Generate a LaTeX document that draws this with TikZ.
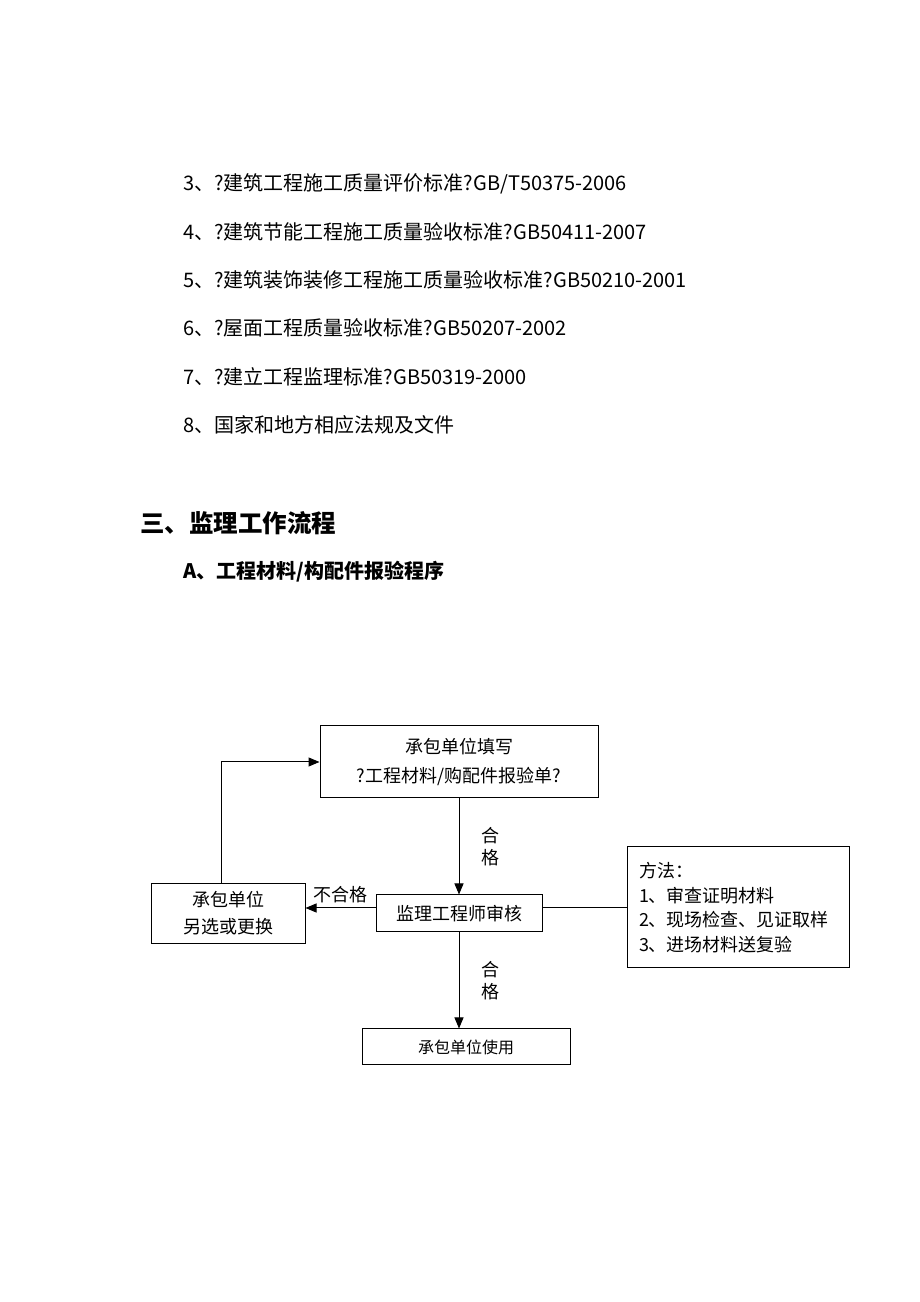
\documentclass[tikz,border=0pt]{standalone}
\usepackage{fontspec}
\setmainfont{Noto Sans CJK SC}
\usepackage{tikz}
\usetikzlibrary{arrows.meta, positioning, calc}

\begin{document}
\begin{tikzpicture}[
    x=1pt, y=1pt,
    node distance=96pt and 70pt,
    item/.style={anchor=west, inner sep=0pt, font=\fontsize{20}{24}\selectfont},
    heading/.style={anchor=west, inner sep=0pt, font=\fontsize{24.5}{28}\selectfont\bfseries},
    subheading/.style={anchor=west, inner sep=0pt, font=\fontsize{20}{24}\selectfont\bfseries},
    block/.style={rectangle, draw, line width=1pt, align=center, inner sep=2pt, font=\fontsize{18}{29}\selectfont},
    method/.style={rectangle, draw, line width=1pt, align=left, text width=198pt, minimum width=222pt, minimum height=121pt, font=\fontsize{18}{24.5}\selectfont},
    arrow/.style={-{Triangle[length=11pt, width=9pt]}, line width=1pt},
    label/.style={font=\fontsize{18}{22}\selectfont, inner sep=2pt}
]

% Page
\fill[white] (0,0) rectangle (920,1302);
\useasboundingbox (0,0) rectangle (920,1302);

% Standards list
\node[item] (std3) at (183,1118) {3、?建筑工程施工质量评价标准?GB/T50375-2006};
\node[item] (std4) at (183,1070) {4、?建筑节能工程施工质量验收标准?GB50411-2007};
\node[item] (std5) at (183,1022) {5、?建筑装饰装修工程施工质量验收标准?GB50210-2001};
\node[item] (std6) at (183,974) {6、?屋面工程质量验收标准?GB50207-2002};
\node[item] (std7) at (183,925.5) {7、?建立工程监理标准?GB50319-2000};
\node[item] (std8) at (183,877) {8、国家和地方相应法规及文件};

% Headings
\node[heading] (sect) at (140,779) {三、监理工作流程};
\node[subheading] (proc) at (183,730.5) {A、工程材料/构配件报验程序};

% Flow boxes
\node[block, minimum width=278pt, minimum height=72pt] (fill) at (459,540) {承包单位填写\\?工程材料/购配件报验单?};
\node[block, minimum width=166pt, minimum height=37pt, below=of fill] (check) {监理工程师审核};
\node[block, minimum width=154pt, minimum height=60pt, font=\fontsize{18}{27}\selectfont, left=of check] (redo) {承包单位\\另选或更换};
\node[block, minimum width=208pt, minimum height=36pt, font=\fontsize{16}{20}\selectfont, below=of check, xshift=7pt] (use) {承包单位使用};
\node[method, right=84pt of check, yshift=6pt] (ways) {方法：\\1、审查证明材料\\2、现场检查、见证取样\\3、进场材料送复验};

% Arrows
\draw[arrow] (fill) -- node[label, midway, right=20pt, align=center] {合\\格} (check);
\draw[arrow] ([yshift=5.5pt]check.west) -- node[label, midway, above=3pt] {不合格} ([yshift=5.5pt]check.west -| redo.east);
\draw[arrow] ([xshift=-7pt]redo.north) |- (fill.west);
\draw[line width=1pt] ([yshift=5.5pt]check.east) -- ([yshift=5.5pt]check.east -| ways.west);
\draw[arrow] (check.south) -- node[label, midway, right=20pt, align=center] {合\\格} (check.south |- use.north);

\end{tikzpicture}
\end{document}
